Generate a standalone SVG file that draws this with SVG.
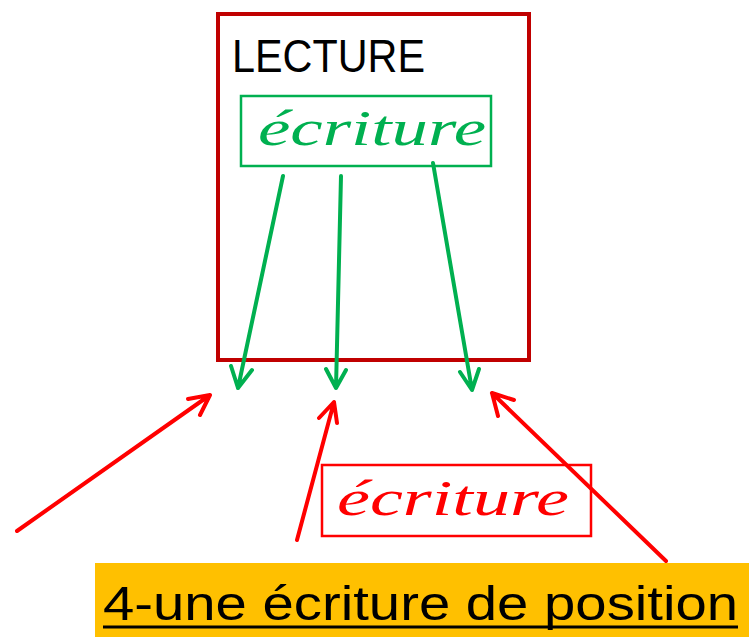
<svg xmlns="http://www.w3.org/2000/svg" width="749" height="637" viewBox="0 0 749 637">
<style>
.g{stroke:#00B050;stroke-width:4;fill:none;stroke-linecap:round;stroke-linejoin:round}
.r{stroke:#FF0000;stroke-width:4;fill:none;stroke-linecap:round;stroke-linejoin:round}
.script{font-family:"Liberation Serif","DejaVu Serif",serif;font-style:italic;font-size:50px}
.sans{font-family:"Liberation Sans","Open Sans",sans-serif;fill:#000}
</style>
<rect width="749" height="637" fill="#fff"/>
<g id="lecture">
<rect x="218" y="14" width="311" height="346" fill="none" stroke="#C00000" stroke-width="4"/>
<text class="sans" x="232" y="72" font-size="46" textLength="193" lengthAdjust="spacingAndGlyphs">LECTURE</text>
</g>
<g id="ecriture-vert">
<rect x="241" y="96" width="250" height="70" fill="none" stroke="#00B050" stroke-width="2.5"/>
<text class="script" x="258" y="145" fill="#00B050" textLength="228" lengthAdjust="spacingAndGlyphs">écriture</text>
</g>
<g id="ecriture-rouge">
<rect x="322" y="465" width="269" height="71" fill="none" stroke="#FF0000" stroke-width="2.5"/>
<text class="script" x="337" y="515" fill="#FF0000" textLength="232" lengthAdjust="spacingAndGlyphs">écriture</text>
</g>
<g id="titre">
<rect x="95" y="563" width="654" height="74" fill="#FFC000"/>
<text class="sans" x="103" y="620" font-size="48" textLength="635" lengthAdjust="spacingAndGlyphs">4-une écriture de position</text>
<line x1="103" y1="627" x2="738" y2="627" stroke="#000" stroke-width="3"/>
</g>
<g id="connecteurs">
<path class="g" d="M283 176 L238 388 M231 366 L238 388 L252 370"/>
<path class="g" d="M341 176 L336 388 M326 369 L336 388 L346 370"/>
<path class="g" d="M433 163 L472 390 M460 372 L472 390 L479 369"/>
<path class="r" d="M17 531 L210 395 M188 399 L210 395 L200 415"/>
<path class="r" d="M297 540 L334 402 M319 418 L334 402 L337 423"/>
<path class="r" d="M666 561 L492 393 M498 416 L492 393 L514 400"/>
</g>
</svg>
